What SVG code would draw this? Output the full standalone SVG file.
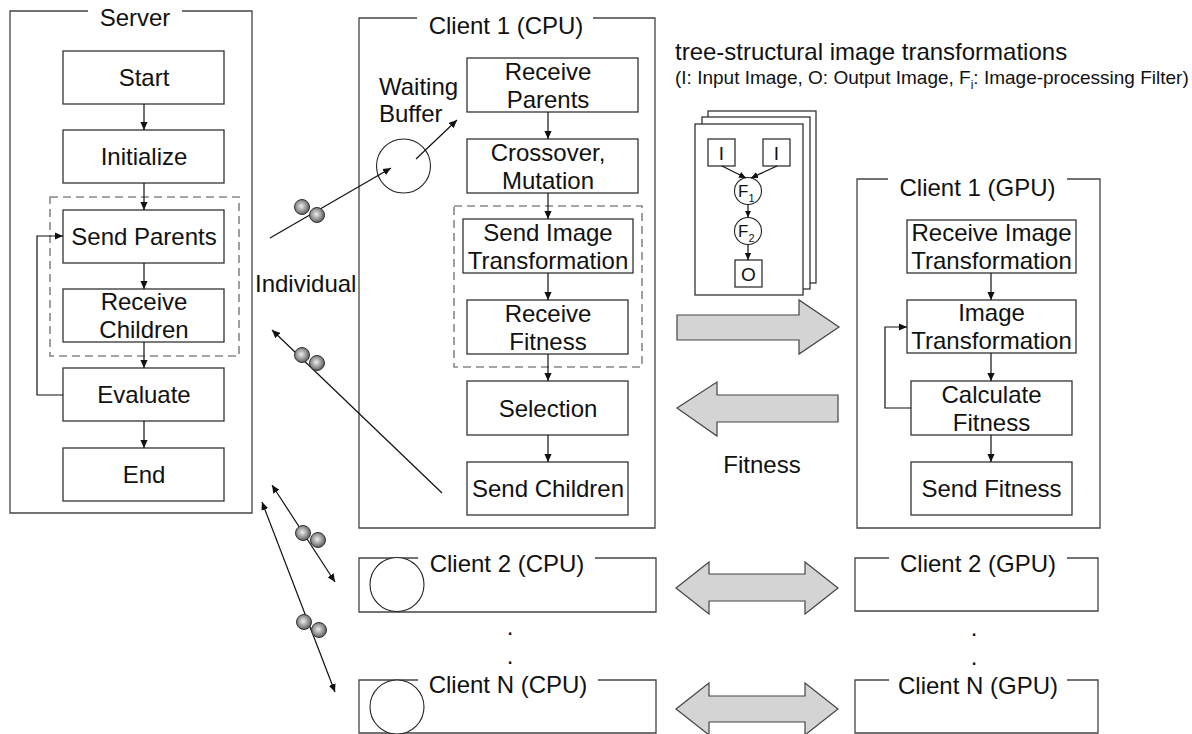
<svg xmlns="http://www.w3.org/2000/svg" width="1192" height="734" viewBox="0 0 1192 734">
<defs>
<style>
text{font-family:"Liberation Sans",Arial,sans-serif;fill:#111}
.t{font-size:24px;text-anchor:middle}
.tl{font-size:24px}
.box{fill:#fff;stroke:#333;stroke-width:1.3}
.frame{fill:none;stroke:#444;stroke-width:1.3}
.dash{fill:none;stroke:#888;stroke-width:1.6;stroke-dasharray:8 5}
.ln{fill:none;stroke:#111;stroke-width:1.2}
.buf{fill:#fff;stroke:#222;stroke-width:1.1}
.fat{fill:#d4d4d4;stroke:#444;stroke-width:1.2;stroke-linejoin:miter}
.ball{fill:url(#bg);stroke:#333;stroke-width:1}
.sm{font-size:19px;text-anchor:middle}
</style>
<radialGradient id="bg" cx="0.45" cy="0.45" r="0.6">
<stop offset="0" stop-color="#eeeeee"/>
<stop offset="0.5" stop-color="#a0a0a0"/>
<stop offset="1" stop-color="#505050"/>
</radialGradient>
<marker id="ah" viewBox="0 0 10 10" refX="10" refY="5" markerWidth="8" markerHeight="8" markerUnits="userSpaceOnUse" orient="auto-start-reverse">
<path d="M0,0.5 L10,5 L0,9.5 z" fill="#111"/>
</marker>
<marker id="ahs" viewBox="0 0 10 10" refX="10" refY="5" markerWidth="7" markerHeight="7" markerUnits="userSpaceOnUse" orient="auto">
<path d="M0,0.5 L10,5 L0,9.5 z" fill="#111"/>
</marker>
</defs>
<rect width="1192" height="734" fill="#fff"/>

<g id="server">
<path class="frame" d="M88,11 H10 V513 H252 V11 H182"/>
<text class="t" x="135" y="26">Server</text>
<rect class="dash" x="50" y="197" width="189" height="159"/>
</g>
<g id="start"><rect class="box" x="63" y="51" width="161" height="53"/><text class="t" x="144" y="86">Start</text></g>
<g id="initialize"><rect class="box" x="63" y="130" width="161" height="53"/><text class="t" x="144" y="165">Initialize</text></g>
<g id="send-parents"><rect class="box" x="63" y="210" width="161" height="53"/><text class="t" x="144" y="245">Send Parents</text></g>
<g id="receive-children"><rect class="box" x="63" y="289" width="161" height="53"/><text class="t" x="144" y="310">Receive</text><text class="t" x="144" y="338">Children</text></g>
<g id="evaluate"><rect class="box" x="63" y="368" width="161" height="53"/><text class="t" x="144" y="403">Evaluate</text></g>
<g id="end"><rect class="box" x="63" y="448" width="161" height="53"/><text class="t" x="144" y="483">End</text></g>

<g id="client1-cpu">
<path class="frame" d="M417,18 H359 V528 H655 V18 H593"/>
<text class="t" x="506" y="34">Client 1 (CPU)</text>
<rect class="dash" x="454" y="206" width="188" height="161"/>
</g>
<g id="waiting-buffer">
<circle class="buf" cx="403.5" cy="166" r="27"/>
<text class="tl" x="379" y="95">Waiting</text>
<text class="tl" x="379" y="122">Buffer</text>
</g>
<g id="receive-parents"><rect class="box" x="467" y="58" width="171" height="54"/><text class="t" x="548" y="80">Receive</text><text class="t" x="548" y="108">Parents</text></g>
<g id="crossover"><rect class="box" x="467" y="139" width="171" height="54"/><text class="t" x="548" y="160.5">Crossover,</text><text class="t" x="548" y="188.5">Mutation</text></g>
<g id="send-image-transformation"><rect class="box" x="463" y="219" width="170" height="54"/><text class="t" x="548" y="240.5">Send Image</text><text class="t" x="548" y="268.5">Transformation</text></g>
<g id="receive-fitness"><rect class="box" x="467" y="300" width="161" height="54"/><text class="t" x="548" y="321.5">Receive</text><text class="t" x="548" y="349.5">Fitness</text></g>
<g id="selection"><rect class="box" x="467" y="381" width="161" height="54"/><text class="t" x="548" y="416.5">Selection</text></g>
<g id="send-children"><rect class="box" x="467" y="462" width="161" height="53"/><text class="t" x="548" y="497">Send Children</text></g>

<g id="client1-gpu">
<path class="frame" d="M888,179 H857 V528 H1100 V179 H1067"/>
<text class="t" x="977.5" y="196">Client 1 (GPU)</text>
</g>
<g id="receive-image-transformation"><rect class="box" x="907" y="220" width="169" height="53"/><text class="t" x="991.5" y="241">Receive Image</text><text class="t" x="991.5" y="269">Transformation</text></g>
<g id="image-transformation"><rect class="box" x="907" y="300" width="169" height="53"/><text class="t" x="991.5" y="321">Image</text><text class="t" x="991.5" y="349">Transformation</text></g>
<g id="calculate-fitness"><rect class="box" x="911" y="381" width="161" height="54"/><text class="t" x="991.5" y="402.5">Calculate</text><text class="t" x="991.5" y="430.5">Fitness</text></g>
<g id="send-fitness"><rect class="box" x="911" y="462" width="161" height="53"/><text class="t" x="991.5" y="497">Send Fitness</text></g>

<g id="client2-cpu">
<path class="frame" d="M418,558 H359 V612 H656 V558 H595"/>
<circle class="buf" cx="397" cy="584.5" r="27"/>
<text class="t" x="507" y="572">Client 2 (CPU)</text>
</g>
<g id="clientN-cpu">
<path class="frame" d="M418,680 H359 V733 H656 V680 H598"/>
<circle class="buf" cx="397" cy="707" r="27"/>
<text class="t" x="508" y="693">Client N (CPU)</text>
</g>
<g id="client2-gpu">
<path class="frame" d="M889,558 H855 V611 H1098 V558 H1067"/>
<text class="t" x="978" y="572">Client 2 (GPU)</text>
</g>
<g id="clientN-gpu">
<path class="frame" d="M889,680 H855 V733 H1098 V680 H1067"/>
<text class="t" x="978" y="694">Client N (GPU)</text>
</g>
<g id="dots">
<text class="t" x="510" y="635">.</text>
<text class="t" x="510" y="664">.</text>
<text class="t" x="974" y="636">.</text>
<text class="t" x="974" y="665">.</text>
</g>

<g id="tree">
<text class="tl" x="675" y="60">tree-structural image transformations</text>
<text x="675" y="84" style="font-size:19px">(I: Input Image, O: Output Image, F<tspan font-size="12" dy="5">i</tspan><tspan dy="-5">: Image-processing Filter)</tspan></text>
<rect class="box" x="708" y="111" width="108" height="172"/>
<rect class="box" x="702" y="117" width="108" height="172"/>
<rect class="box" x="695" y="124" width="108" height="171"/>
<rect class="box" x="708" y="139" width="27" height="27"/>
<rect class="box" x="763" y="139" width="27" height="27"/>
<text class="sm" x="721.5" y="160">I</text>
<text class="sm" x="776.5" y="160">I</text>
<circle class="buf" cx="748" cy="191" r="13.5"/>
<circle class="buf" cx="748" cy="231" r="13.5"/>
<text x="738" y="197" style="font-size:17px">F<tspan font-size="11" dy="5">1</tspan></text>
<text x="738" y="237" style="font-size:17px">F<tspan font-size="11" dy="5">2</tspan></text>
<rect class="box" x="735" y="260" width="27" height="27"/>
<text class="sm" x="748.5" y="280.5">O</text>
<line class="ln" x1="722" y1="166" x2="746" y2="178" marker-end="url(#ahs)"/>
<line class="ln" x1="777" y1="166" x2="751" y2="178" marker-end="url(#ahs)"/>
<line class="ln" x1="748" y1="204.5" x2="748" y2="217.5" marker-end="url(#ahs)"/>
<line class="ln" x1="748" y1="244.5" x2="748" y2="260" marker-end="url(#ahs)"/>
</g>

<g id="fat-arrows">
<path class="fat" d="M677,315 H799 V300 L839,327 L799,354 V340 H677 Z"/>
<path class="fat" d="M677,408 L717,382 V395 H838 V422 H717 V436 Z"/>
<path class="fat" d="M676,588 L709,562 V574 H805 V562 L838,588 L805,614 V601 H709 V614 Z"/>
<path class="fat" d="M676,709 L709,683 V696 H805 V683 L838,709 L805,735 V722 H709 V735 Z"/>
<text class="t" x="762" y="473">Fitness</text>
</g>

<g id="labels">
<text class="tl" x="255" y="292">Individual</text>
</g>

<g id="connectors">
<line class="ln" x1="144" y1="104" x2="144" y2="130" marker-end="url(#ah)"/>
<line class="ln" x1="144" y1="183" x2="144" y2="210" marker-end="url(#ah)"/>
<line class="ln" x1="144" y1="263" x2="144" y2="289" marker-end="url(#ah)"/>
<line class="ln" x1="144" y1="342" x2="144" y2="368" marker-end="url(#ah)"/>
<line class="ln" x1="144" y1="421" x2="144" y2="448" marker-end="url(#ah)"/>
<polyline class="ln" points="63,395 37,395 37,236 63,236" marker-end="url(#ah)"/>
<line class="ln" x1="548" y1="112" x2="548" y2="139" marker-end="url(#ah)"/>
<line class="ln" x1="548" y1="193" x2="548" y2="219" marker-end="url(#ah)"/>
<line class="ln" x1="548" y1="273" x2="548" y2="300" marker-end="url(#ah)"/>
<line class="ln" x1="548" y1="354" x2="548" y2="381" marker-end="url(#ah)"/>
<line class="ln" x1="548" y1="435" x2="548" y2="462" marker-end="url(#ah)"/>
<line class="ln" x1="991" y1="273" x2="991" y2="300" marker-end="url(#ah)"/>
<line class="ln" x1="991" y1="353" x2="991" y2="381" marker-end="url(#ah)"/>
<line class="ln" x1="991" y1="435" x2="991" y2="462" marker-end="url(#ah)"/>
<polyline class="ln" points="911,408 885,408 885,327 907,327" marker-end="url(#ah)"/>
<line class="ln" x1="416" y1="159" x2="457" y2="120" marker-end="url(#ah)"/>
<line class="ln" x1="270" y1="238" x2="391" y2="168" marker-end="url(#ah)"/>
<line class="ln" x1="442" y1="493" x2="272" y2="330" marker-end="url(#ah)"/>
<line class="ln" x1="272" y1="485" x2="335" y2="582" marker-start="url(#ah)" marker-end="url(#ah)"/>
<line class="ln" x1="262" y1="502" x2="335" y2="692" marker-start="url(#ah)" marker-end="url(#ah)"/>
</g>

<g id="individuals">
<circle class="ball" cx="302" cy="207" r="7.5"/>
<circle class="ball" cx="317" cy="215" r="7.5"/>
<circle class="ball" cx="302" cy="355" r="7.5"/>
<circle class="ball" cx="317" cy="363" r="7.5"/>
<circle class="ball" cx="303" cy="533" r="7.5"/>
<circle class="ball" cx="318" cy="540" r="7.5"/>
<circle class="ball" cx="304" cy="622" r="7.5"/>
<circle class="ball" cx="319" cy="630" r="7.5"/>
</g>
</svg>
